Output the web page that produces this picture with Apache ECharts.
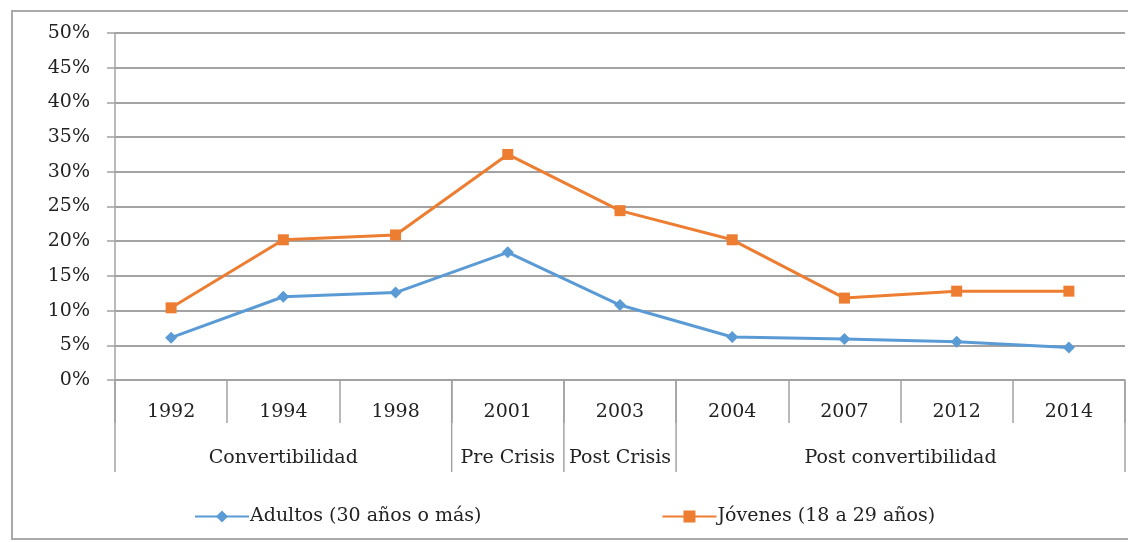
<!DOCTYPE html>
<html>
<head>
<meta charset="utf-8">
<script src="https://cdn.jsdelivr.net/npm/echarts@6/dist/echarts.min.js"></script>
<style>
  html, body { margin: 0; padding: 0; background: #fff; }
  #chart { width: 1128px; height: 542px; }
</style>
</head>
<body>
<div id="chart"></div>
<script>
// Survey years along the horizontal axis
const years = ['1992', '1994', '1998', '2001', '2003', '2004', '2007', '2012', '2014'];
// Period groups shown beneath the years, with how many years each one spans
const periodLabels = ['Convertibilidad', 'Pre Crisis', 'Post Crisis', 'Post convertibilidad'];
const periodSpans = [3, 1, 1, 4];
// Series values, in percent
const adultos = [6.1, 12.0, 12.6, 18.4, 10.8, 6.2, 5.9, 5.5, 4.7];
const jovenes = [10.4, 20.2, 20.9, 32.5, 24.4, 20.2, 11.8, 12.8, 12.8];
const seriesNames = ['Adultos (30 años o más)', 'Jóvenes (18 a 29 años)'];

const FONT = 'DejaVu Serif';
const TEXT = '#222222';
const RULE = '#a3a3a3';

const chart = echarts.init(document.getElementById('chart'), null, { renderer: 'canvas' });

chart.setOption({
  backgroundColor: '#ffffff',
  animation: false,
  grid: { left: 115, right: 3, top: 33, bottom: 162, containLabel: false },
  legend: {
    left: 189,
    top: 502,
    itemWidth: 54,
    itemHeight: 15,
    itemGap: 180,
    textStyle: { fontFamily: FONT, fontSize: 19, color: TEXT, padding: [0, 0, 0, -4] },
    data: seriesNames
  },
  xAxis: [{
    type: 'category',
    data: years,
    boundaryGap: true,
    axisLine: { lineStyle: { color: RULE, width: 1.5 } },
    axisTick: { show: true, interval: 0, length: 43, lineStyle: { color: RULE, width: 1.5 } },
    axisLabel: { interval: 0, margin: 23, fontFamily: FONT, fontSize: 19, color: TEXT },
    splitLine: { show: false }
  }],
  yAxis: {
    type: 'value',
    min: 0,
    max: 50,
    interval: 5,
    axisLine: { show: true, lineStyle: { color: RULE, width: 1.5 } },
    axisTick: { show: true, length: 8, lineStyle: { color: RULE, width: 1.5 } },
    axisLabel: { formatter: '{value}%', margin: 25, fontFamily: FONT, fontSize: 19, color: TEXT },
    splitLine: { show: true, lineStyle: { color: RULE, width: 1.8 } }
  },
  series: [{
    name: seriesNames[0],
    type: 'line',
    data: adultos,
    symbol: 'diamond',
    symbolSize: 12,
    itemStyle: { color: '#5b9bd5' },
    lineStyle: { color: '#5b9bd5', width: 3 },
    z: 3
  }, {
    name: seriesNames[1],
    type: 'line',
    data: jovenes,
    symbol: 'rect',
    symbolSize: 11,
    itemStyle: { color: '#ed7d31' },
    lineStyle: { color: '#ed7d31', width: 3 },
    z: 4
  }]
});

// Period table under the year labels: dividers and centred group names,
// positioned from the category axis itself.
function drawPeriods() {
  const c0 = chart.convertToPixel({ xAxisIndex: 0 }, 0);
  const c1 = chart.convertToPixel({ xAxisIndex: 0 }, 1);
  const band = c1 - c0;
  const baseY = chart.convertToPixel({ yAxisIndex: 0 }, 0);
  const bottomY = baseY + 92;
  const edge = i => c0 - band / 2 + i * band;

  const elements = [{
    type: 'rect',
    shape: { x: 12, y: 11, width: 1130, height: 528 },
    style: { fill: null, stroke: '#a9a9a9', lineWidth: 2 },
    silent: true
  }];

  let start = 0;
  const bounds = [0];
  periodSpans.forEach((span, k) => {
    const end = start + span;
    bounds.push(end);
    elements.push({
      type: 'text',
      x: (edge(start) + edge(end)) / 2,
      y: baseY + 78,
      style: {
        text: periodLabels[k],
        fontFamily: FONT, fontSize: 19, fill: TEXT,
        align: 'center', verticalAlign: 'middle'
      },
      silent: true
    });
    start = end;
  });
  bounds.forEach(b => {
    elements.push({
      type: 'line',
      shape: { x1: edge(b), y1: baseY, x2: edge(b), y2: bottomY },
      style: { stroke: RULE, lineWidth: 1.5 },
      silent: true
    });
  });
  chart.setOption({ graphic: elements });
}
drawPeriods();
</script>
</body>
</html>
